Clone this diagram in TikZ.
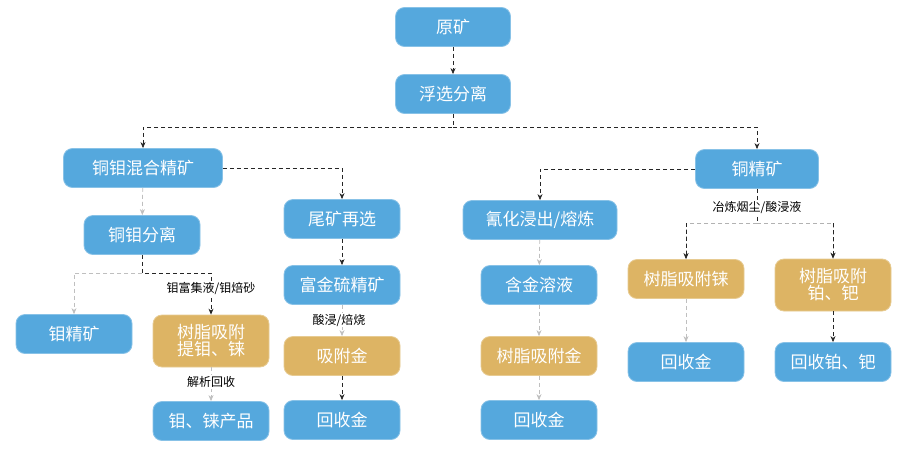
\documentclass[tikz,border=0pt]{standalone}
\usepackage{fontspec}
\setmainfont{Noto Sans CJK SC}
\usetikzlibrary{arrows.meta}
\definecolor{bl}{HTML}{55A8DD}
\definecolor{gd}{HTML}{DDB464}
\begin{document}
\begin{tikzpicture}[x=1pt,y=-1pt,
 box/.style={rounded corners=9pt,fill=bl,draw=bl!70!white,line width=0.8pt,text=white,font=\fontsize{17}{19}\selectfont,minimum height=39pt,align=center,inner sep=2pt},
 gbox/.style={box,fill=gd,draw=gd!70!white},
 dk/.style={dashed,dash pattern=on 4pt off 3pt,draw=black!85,line width=0.7pt,-{Stealth[length=6pt,width=5pt]}},
 lt/.style={dk,draw=black!25},
 lbl/.style={font=\fontsize{12}{13}\selectfont,fill=white,inner sep=1pt}]
\useasboundingbox[fill=white] (0,0) rectangle (901,450);
\node[box,minimum width=115pt] (a) at (453,27) {原矿};
\node[box,minimum width=115pt] (b) at (453,94) {浮选分离};
\node[box,minimum width=159pt] (c) at (143,168) {铜钼混合精矿};
\node[box,minimum width=123pt] (d) at (757,169) {铜精矿};
\node[box,minimum width=116pt] (e) at (142,235) {铜钼分离};
\node[box,minimum width=116pt] (f) at (342,219) {尾矿再选};
\node[box,minimum width=154pt] (g) at (540,220) {氰化浸出/熔炼};
\node[box,minimum width=116pt] (h) at (74,334) {钼精矿};
\node[gbox,minimum width=116pt,minimum height=52pt] (i) at (211,341) {树脂吸附\\[-2pt]提钼、铼};
\node[box,minimum width=116pt] (j) at (211,421) {钼、铼产品};
\node[box,minimum width=116pt] (k) at (342,285) {富金硫精矿};
\node[gbox,minimum width=116pt] (l) at (342,356) {吸附金};
\node[box,minimum width=116pt] (m) at (342,420) {回收金};
\node[box,minimum width=116pt] (n) at (539,285) {含金溶液};
\node[gbox,minimum width=116pt] (o) at (539,356) {树脂吸附金};
\node[box,minimum width=116pt] (p) at (539,420) {回收金};
\node[gbox,minimum width=116pt] (q) at (686,279) {树脂吸附铼};
\node[gbox,minimum width=116pt,minimum height=52pt] (r) at (833,285) {树脂吸附\\[-2pt]铂、钯};
\node[box,minimum width=116pt] (s) at (686,362) {回收金};
\node[box,minimum width=116pt] (t) at (833,362) {回收铂、钯};
\coordinate (bj) at (453,127);
\draw[dk] (a) -- (b);
\draw[dk] (b) -- (bj) -| (c);
\draw[dk] (bj) -| (d);
\draw[dk] (c.east) -| (f);
\draw[lt] (c) -- (e);
\draw[dk] (e.south) -- ++(0,18) -| (i);
\draw[lt] (e.south) ++(0,18) -| (h);
\node[lbl] at (211,288) {钼富集液/钼焙砂};
\draw[lt] (i) -- (j);
\node[lbl] at (211,382) {解析回收};
\draw[dk] (f) -- (k);
\draw[lt] (k) -- (l);
\node[lbl] at (339,320) {酸浸/焙烧};
\draw[dk] (l) -- (m);
\draw[dk] (d.west) -| (g);
\draw[lt] (g) -- (n);
\draw[lt] (n) -- (o);
\draw[lt] (o) -- (p);
\coordinate (dj) at (757,223);
\draw[dk,-] (d) -- (dj);
\node[lbl] at (757,208) {冶炼烟尘/酸浸液};
\draw[lt,draw=black!30] (dj) -| (q);
\draw[lt,draw=black!30] (dj) -| (r);
\draw[dk] (686,223) -- (q);
\draw[dk] (833,223) -- (r);
\draw[lt] (q) -- (s);
\draw[dk] (r) -- (t);
\end{tikzpicture}
\end{document}
